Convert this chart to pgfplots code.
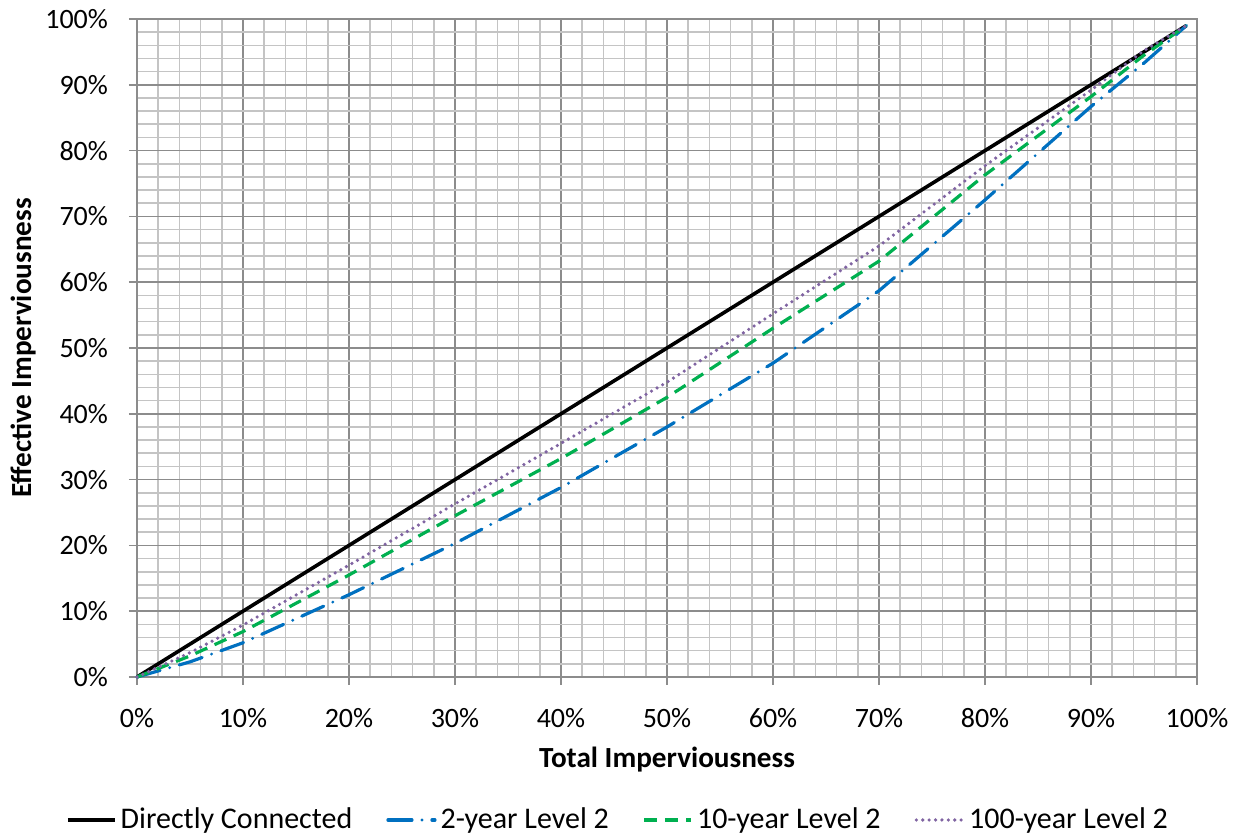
\documentclass[border=0pt]{standalone}
\usepackage{fontspec}
\setmainfont{Carlito}
\usepackage{pgfplots}
\pgfplotsset{compat=1.18}

\definecolor{dcblack}{HTML}{000000}
\definecolor{lvtwo}{HTML}{0070C0}
\definecolor{lvten}{HTML}{00B050}
\definecolor{lvhund}{HTML}{8064A2}
\definecolor{majgrid}{HTML}{8C8C8C}
\definecolor{mingrid}{HTML}{C4C4C4}

\begin{document}
\begin{tikzpicture}
\begin{axis}[
    scale only axis,
    width=530pt,
    height=329pt,
    xmin=0, xmax=100,
    ymin=0, ymax=100,
    xtick={0,10,...,100},
    ytick={0,10,...,100},
    minor x tick num=4,
    minor y tick num=4,
    grid=both,
    major grid style={majgrid, line width=0.8pt},
    minor grid style={mingrid, line width=0.8pt},
    axis line style={majgrid, line width=0.8pt},
    tick style={majgrid, line width=0.8pt},
    major tick length=4pt,
    minor tick length=0pt,
    tick align=outside,
    xtick pos=bottom, ytick pos=left,
    /pgf/number format/assume math mode=true,
    xticklabel={\pgfmathprintnumber{\tick}\%},
    yticklabel={\pgfmathprintnumber{\tick}\%},
    ticklabel style={font=\fontsize{14}{16}\selectfont},
    xticklabel style={yshift=-8pt},
    yticklabel style={xshift=-7pt},
    xlabel={\textbf{Total Imperviousness}},
    ylabel={\textbf{Effective Imperviousness}},
    label style={font=\fontsize{14.6}{17}\selectfont},
    xlabel style={yshift=-3pt},
    ylabel style={yshift=-2pt},
    legend columns=4,
    legend style={draw=none, at={(0.4547,-0.2173)}, anchor=center,
        font=\fontsize{15}{17}\selectfont, inner sep=0pt,
        /tikz/every even column/.append style={column sep=15pt}},
    legend image code/.code={\draw[#1] (0pt,0pt) -- (23.5pt,0pt);},
    clip=false,
]
\coordinate (bl) at (rel axis cs:0,0);
\coordinate (tr) at (rel axis cs:1,1);

\addplot[dcblack, line width=1.8pt] coordinates {(0,0) (99,99)};
\addlegendentry{Directly Connected}

\addplot[lvtwo, line width=1.6pt, line cap=round,
    dash pattern={on 12pt off 5pt on 0pt off 5pt}] coordinates {
    (0,0) (5,2.3) (10,5.2) (20,12.5) (30,20.3) (40,28.8) (50,38)
    (60,47.7) (70,58.7) (80,72.5) (90,86.7) (95,93.3) (99,99)};
\addlegendentry{2-year Level 2}

\addplot[lvten, line width=1.6pt,
    dash pattern={on 6.5pt off 4pt}] coordinates {
    (0,0) (5,3.2) (10,6.9) (20,15.5) (30,24.5) (40,33.2) (50,42.5)
    (60,53) (70,63.2) (80,76.3) (90,88.2) (95,94.5) (99,99)};
\addlegendentry{10-year Level 2}

\addplot[lvhund, line width=1.8pt, line cap=round,
    dash pattern={on 0pt off 3.2pt}] coordinates {
    (0,0) (5,3.7) (10,7.9) (20,17) (30,26.3) (40,35.5) (50,44.8)
    (60,55.2) (70,65.5) (80,77.7) (90,89.2) (95,95.2) (99,99)};
\addlegendentry{100-year Level 2}
\end{axis}
\pgfresetboundingbox
\path[use as bounding box] ([xshift=-68.5pt,yshift=-78.5pt]bl) rectangle ([xshift=20pt,yshift=9.5pt]tr);
\end{tikzpicture}
\end{document}
